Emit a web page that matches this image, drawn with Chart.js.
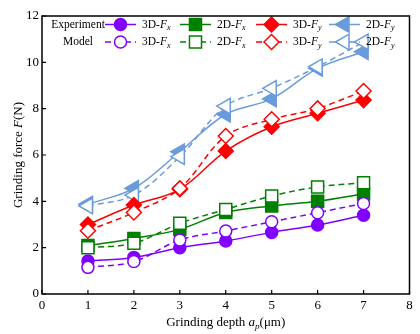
<!DOCTYPE html>
<html>
<head>
<meta charset="utf-8">
<script src="https://cdn.jsdelivr.net/npm/chart.js@4.4.1/dist/chart.umd.min.js"></script>
<style>
  html, body { margin: 0; padding: 0; background: #fff; }
  canvas { display: block; }
</style>
</head>
<body>
<canvas id="forceChart" width="420" height="334"></canvas>
<script>
const SERIF = '"Liberation Serif", "Times New Roman", serif';

// grinding depth a_p (um)
const depth = [1, 2, 3, 4, 5, 6, 7];
const xTicks = [0, 1, 2, 3, 4, 5, 6, 7, 8];
const yTicks = [0, 2, 4, 6, 8, 10, 12];

// measured forces (N)
const exp3DFx = [1.42, 1.58, 2.00, 2.29, 2.66, 2.98, 3.40];
const exp2DFx = [2.09, 2.40, 2.79, 3.52, 3.80, 4.00, 4.32];
const exp3DFy = [3.00, 3.84, 4.52, 6.17, 7.22, 7.80, 8.37];
const exp2DFy = [3.88, 4.56, 6.14, 7.76, 8.42, 9.74, 10.46];

// model predictions (N)
const mod3DFx = [1.15, 1.40, 2.33, 2.72, 3.12, 3.51, 3.91];
const mod2DFx = [2.00, 2.19, 3.05, 3.65, 4.23, 4.62, 4.80];
const mod3DFy = [2.73, 3.52, 4.56, 6.82, 7.54, 8.01, 8.76];
const mod2DFy = [3.80, 4.27, 5.93, 8.11, 8.88, 9.81, 10.88];

// legend text: prefix + italic F + subscript
const seriesPrefix = ['3D-', '2D-', '3D-', '2D-'];
const seriesSub = ['x', 'x', 'y', 'y'];
const rowNames = ['Experiment', 'Model'];

const colors = ['#8000FF', '#008000', '#FF0000', '#6A9BDB'];
const styles = [
    { pointStyle: 'circle', radius: 6, rotation: 0 },
    { pointStyle: 'rect', radius: 8.5, rotation: 0 },
    { pointStyle: 'rectRot', radius: 7.5, rotation: 0 },
    { pointStyle: 'triangle', radius: 9, rotation: -90 }
];

function series(values, i, model) {
    const st = styles[i];
    return {
        data: depth.map((d, k) => ({ x: d, y: values[k] })),
        borderColor: colors[i],
        borderWidth: 1.5,
        borderDash: model ? [6, 4] : [],
        tension: 0.35,
        pointStyle: st.pointStyle,
        pointRadius: st.radius,
        pointRotation: st.rotation,
        pointBorderWidth: 1.5,
        pointBorderColor: colors[i],
        pointBackgroundColor: model ? '#fff' : colors[i],
        model: model
    };
}

const datasets = [
    series(mod3DFx, 0, true), series(exp3DFx, 0, false),
    series(mod2DFx, 1, true), series(exp2DFx, 1, false),
    series(mod3DFy, 2, true), series(exp3DFy, 2, false),
    series(mod2DFy, 3, true), series(exp2DFy, 3, false)
];

// draw a list of text runs, with italic / subscript parts
function drawRuns(ctx, runs, x, y, size, align) {
    const fontOf = r => (r.it ? 'italic ' : '') + (r.sub ? size * 0.7 : size) + 'px ' + SERIF;
    let total = 0;
    runs.forEach(r => { ctx.font = fontOf(r); total += ctx.measureText(r.t).width; });
    let cx = align === 'center' ? x - total / 2 : x;
    ctx.textBaseline = 'middle';
    ctx.textAlign = 'left';
    runs.forEach(r => {
        ctx.font = fontOf(r);
        ctx.fillText(r.t, cx, r.sub ? y + size * 0.3 : y);
        cx += ctx.measureText(r.t).width;
    });
}

const framePlugin = {
    id: 'frame',
    afterDraw(chart) {
        const { ctx, chartArea: a, scales } = chart;
        ctx.save();
        ctx.strokeStyle = '#000';
        ctx.lineWidth = 1.5;
        ctx.strokeRect(a.left, a.top, a.right - a.left, a.bottom - a.top);
        ctx.lineWidth = 1.2;
        ctx.beginPath();
        yTicks.forEach(v => {
            const py = scales.y.getPixelForValue(v);
            ctx.moveTo(a.left, py);
            ctx.lineTo(a.left + 4, py);
        });
        xTicks.forEach(v => {
            const px = scales.x.getPixelForValue(v);
            ctx.moveTo(px, a.bottom);
            ctx.lineTo(px, a.bottom - 4);
        });
        ctx.stroke();

        ctx.fillStyle = '#000';
        drawRuns(ctx, [{ t: 'Grinding depth ' }, { t: 'a', it: true }, { t: 'p', it: true, sub: true }, { t: '(μm)' }],
            (a.left + a.right) / 2, 323, 13, 'center');
        ctx.translate(19, (a.top + a.bottom) / 2);
        ctx.rotate(-Math.PI / 2);
        drawRuns(ctx, [{ t: 'Grinding force ' }, { t: 'F', it: true }, { t: '(N)' }], 0, 0, 13, 'center');
        ctx.restore();
    }
};

const legendPlugin = {
    id: 'rowLegend',
    afterDatasetsDraw(chart) {
        const ctx = chart.ctx;
        const rowsY = [24.5, 42];
        const sampleX = [105, 180, 256, 329];
        ctx.save();
        rowNames.forEach((name, row) => {
            ctx.fillStyle = '#000';
            drawRuns(ctx, [{ t: name }], 78, rowsY[row], 11.5, 'center');
            sampleX.forEach((sx, i) => {
                const ds = chart.data.datasets[i * 2 + (row === 0 ? 1 : 0)];
                const y = rowsY[row];
                ctx.strokeStyle = ds.borderColor;
                ctx.lineWidth = 1.5;
                ctx.setLineDash(ds.borderDash);
                ctx.beginPath();
                ctx.moveTo(sx, y);
                ctx.lineTo(sx + 31, y);
                ctx.stroke();
                ctx.setLineDash([]);
                ctx.fillStyle = ds.pointBackgroundColor;
                Chart.helpers.drawPoint(ctx, {
                    pointStyle: ds.pointStyle,
                    rotation: ds.pointRotation,
                    radius: ds.pointRadius,
                    borderWidth: ds.pointBorderWidth
                }, sx + 15.5, y);
                ctx.fillStyle = '#000';
                drawRuns(ctx, [{ t: seriesPrefix[i] }, { t: 'F', it: true }, { t: seriesSub[i], it: true, sub: true }],
                    sx + 37, y, 11.5, 'left');
            });
        });
        ctx.restore();
    }
};

new Chart(document.getElementById('forceChart'), {
    type: 'line',
    data: { datasets: datasets },
    options: {
        responsive: false,
        animation: false,
        layout: { padding: { top: 16, right: 3, left: 0, bottom: 0 } },
        plugins: { legend: { display: false }, tooltip: { enabled: false } },
        scales: {
            x: {
                type: 'linear',
                min: 0,
                max: 8,
                afterBuildTicks: s => { s.ticks = xTicks.map(v => ({ value: v })); },
                afterFit: s => { s.height = 40; },
                grid: { display: false, drawTicks: false },
                border: { display: false },
                ticks: { color: '#000', padding: 4, font: { family: SERIF, size: 13 } }
            },
            y: {
                min: 0,
                max: 12,
                afterBuildTicks: s => { s.ticks = yTicks.map(v => ({ value: v })); },
                afterFit: s => { s.width = 42; },
                grid: { display: false, drawTicks: false },
                border: { display: false },
                ticks: { color: '#000', padding: 3, font: { family: SERIF, size: 13 } }
            }
        }
    },
    plugins: [framePlugin, legendPlugin]
});
</script>
</body>
</html>
